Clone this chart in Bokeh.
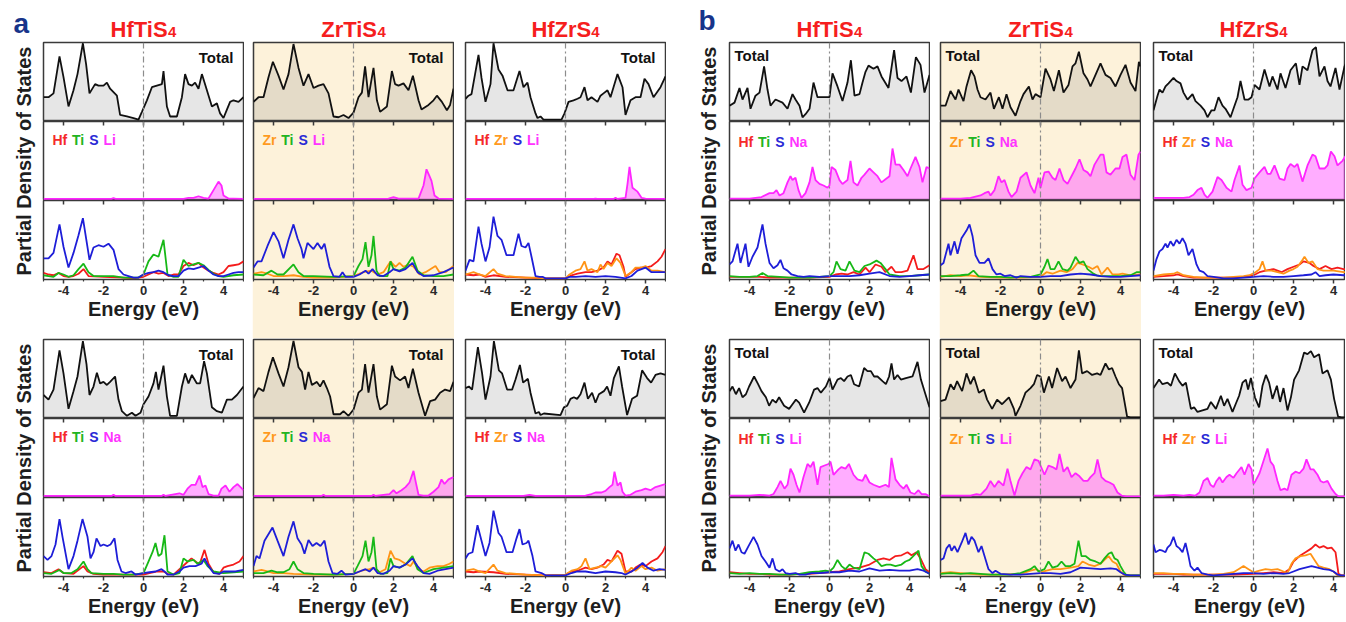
from math import pi
from bokeh.plotting import figure
from bokeh.layouts import row, column
from bokeh.models import Spacer, Label, Span, LinearAxis, FixedTicker, Range1d
from bokeh.embed import file_html
from bokeh.resources import INLINE

# ---------------- tick / label data ----------------
TICKS = [-4, -2, 0, 2, 4]
TICK_LABELS = ["-4", "-2", "0", "2", "4"]
MINOR_TICKS = [-5, -3, -1, 1, 3, 5]
COMPOUNDS = ["HfTiS", "ZrTiS", "HfZrS"]          # each followed by subscript 4
SUBSCRIPT = "4"
COL_ELEMENTS = [["Hf", "Ti", "S"], ["Zr", "Ti", "S"], ["Hf", "Zr", "S"]]
ALKALI_A = ["Li", "Na"]     # panel a: top row, bottom row
ALKALI_B = ["Na", "Li"]     # panel b: top row, bottom row

# ---------------- PANEL a, top row (Li) ----------------
A1_TOT = [(-5,30),(-4.75,30),(-4.5,35),(-4.2,83),(-4.0,56),(-3.75,18),(-3.5,39),(-3.3,60),(-3.03,100),(-2.87,73),(-2.7,35),(-2.42,47),(-2.25,45),(-2.0,45),(-1.83,49),(-1.67,41),(-1.33,32),(-1.17,7),(-0.83,5),(-0.5,3),(-0.25,1),(-0.08,11),(0.17,26),(0.42,43),(0.67,45),(0.92,47),(1.0,64),(1.17,18),(1.33,5),(1.67,5),(1.92,30),(2.08,60),(2.25,47),(2.42,45),(2.58,49),(2.75,41),(2.92,60),(3.17,39),(3.42,18),(3.67,22),(3.83,9),(4.0,3),(4.17,14),(4.33,24),(4.5,26),(4.75,24),(5.0,30)]
A1_ALK = [(-5,0.5),(-1.6,0.5),(-1.5,1.5),(-1.4,0.5),(2.0,0.5),(2.25,2),(2.5,2),(2.75,4),(3.0,2),(3.25,1),(3.5,12),(3.75,23),(3.9,18),(4.0,5),(4.25,1),(4.5,1),(5,0.5)]
A1_HF = [(-5,7),(-4.75,5),(-4.5,4),(-4.25,7),(-4.0,3),(-3.75,2),(-3.5,3),(-3.25,6),(-3.0,12),(-2.75,3),(-2.0,2),(-1.0,1),(-0.5,0),(0,2),(0.25,5),(0.5,8),(0.75,6),(1.0,7),(1.25,3),(1.5,5),(1.75,5),(2.0,16),(2.25,20),(2.5,17),(2.75,20),(3.0,14),(3.25,10),(3.5,7),(3.75,5),(4.0,8),(4.25,16),(4.5,17),(4.75,18),(5.0,22)]
A1_TI = [(-5,4),(-4.75,3),(-4.5,2),(-4.25,7),(-4.0,5),(-3.75,2),(-3.5,4),(-3.25,12),(-3.0,19),(-2.75,8),(-2.5,3),(-2.0,3),(-1.5,3),(-1.0,1),(-0.25,1),(0,5),(0.25,22),(0.5,31),(0.75,28),(1.0,50),(1.2,5),(1.5,2),(1.75,2),(2.0,24),(2.25,16),(2.5,18),(2.75,20),(3.0,17),(3.25,11),(3.5,6),(3.75,3),(4.0,2),(4.5,4),(5.0,5)]
A1_S = [(-5,26),(-4.75,26),(-4.5,33),(-4.2,70),(-4.0,41),(-3.75,14),(-3.5,33),(-3.25,56),(-3.03,78),(-2.7,24),(-2.5,40),(-2.25,43),(-2.0,41),(-1.75,45),(-1.5,37),(-1.25,12),(-1.0,5),(-0.75,3),(-0.5,1),(-0.25,1),(0,5),(0.25,7),(0.5,8),(0.75,10),(1.0,8),(1.25,4),(1.5,3),(1.75,3),(2.0,10),(2.25,13),(2.5,12),(2.75,14),(3.0,16),(3.25,10),(3.5,5),(3.75,3),(4.0,3),(4.25,5),(4.5,7),(4.75,8),(5.0,8)]

A2_TOT = [(-5,24),(-4.75,30),(-4.5,30),(-4.25,56),(-4.03,76),(-3.75,58),(-3.5,40),(-3.25,60),(-3.0,99),(-2.75,68),(-2.5,45),(-2.25,60),(-2.0,42),(-1.75,45),(-1.5,47),(-1.25,35),(-1.0,5),(-0.75,4),(-0.5,7),(-0.25,3),(0,10),(0.25,30),(0.42,36),(0.58,70),(0.75,30),(1.0,68),(1.17,26),(1.33,11),(1.67,18),(1.92,64),(2.08,47),(2.25,45),(2.5,48),(2.75,39),(2.97,58),(3.25,26),(3.4,14),(3.75,20),(4.0,26),(4.17,32),(4.42,24),(4.67,13),(4.83,20),(5.0,41)]
A2_ALK = [(-5,0.5),(1.75,1),(2.0,3),(2.25,1),(2.5,1),(3.25,1),(3.5,18),(3.65,39),(3.8,30),(3.9,24),(4.05,5),(4.25,1),(5,0.5)]
A2_ZR = [(-5,6),(-4.6,8),(-4.3,6),(-4.0,3),(-3.5,3),(-3.0,4),(-2.5,2),(-2,1),(-1,1),(0,3),(0.5,8),(0.9,10),(1.2,5),(1.5,8),(1.85,22),(2.1,15),(2.3,20),(2.5,15),(2.75,18),(3.0,15),(3.3,5),(3.6,8),(4.1,16),(4.3,8),(4.6,8),(5,16)]
A2_TI = [(-5,5),(-4.5,4),(-4.1,10),(-3.8,5),(-3.5,5),(-3.0,18),(-2.75,8),(-2.5,3),(-2,3),(-1,2),(0,3),(0.25,16),(0.45,25),(0.6,47),(0.75,15),(0.9,30),(1.0,55),(1.15,10),(1.3,3),(1.7,3),(1.85,22),(2.0,12),(2.3,10),(2.6,14),(2.95,28),(3.2,10),(3.5,4),(4,3),(4.5,3),(5,5)]
A2_S = [(-5,14),(-4.8,22),(-4.6,22),(-4.3,42),(-4.0,60),(-3.75,48),(-3.5,26),(-3.25,50),(-3.0,70),(-2.8,52),(-2.6,38),(-2.5,26),(-2.3,46),(-2.0,38),(-1.8,46),(-1.6,38),(-1.45,45),(-1.2,15),(-1.0,3),(-0.7,2),(-0.55,8),(-0.4,2),(0,2),(0.3,5),(0.6,10),(0.75,6),(0.95,12),(1.2,4),(1.5,3),(1.8,8),(2.0,12),(2.3,9),(2.6,12),(2.95,20),(3.2,8),(3.5,3),(4,4),(4.5,8),(5,14)]

A3_TOT = [(-5,28),(-4.85,32),(-4.7,34),(-4.35,85),(-4.2,55),(-4.0,24),(-3.75,47),(-3.6,100),(-3.35,66),(-3.15,58),(-2.9,39),(-2.6,39),(-2.3,64),(-2.1,43),(-1.9,49),(-1.75,30),(-1.5,9),(-1.4,3),(-1.25,5),(-1.1,1),(-0.2,1),(-0.05,9),(0.15,24),(0.4,26),(0.6,28),(0.75,30),(0.95,43),(1.1,26),(1.3,30),(1.6,24),(1.75,32),(1.9,35),(2.1,39),(2.25,30),(2.6,60),(2.85,43),(3.0,7),(3.25,26),(3.5,30),(3.75,30),(3.95,54),(4.15,47),(4.4,30),(4.75,43),(5.0,57)]
A3_ALK = [(-5,0.5),(1.4,0.5),(1.5,1),(1.6,0.5),(2.4,0.5),(2.5,2),(2.6,0.5),(3.0,2),(3.1,20),(3.2,42),(3.35,15),(3.6,10),(3.8,2),(4.0,1),(5,0.5)]
A3_HF = [(-5,5),(-4.6,4),(-4.3,5),(-4,2),(-3.6,4),(-3,2),(-2,1),(-1,0),(0,0),(0.3,4),(0.6,6),(1.0,8),(1.3,8),(1.6,10),(1.9,14),(2.1,22),(2.3,18),(2.55,32),(2.7,30),(2.9,15),(3.0,2),(3.2,6),(3.5,12),(3.75,14),(4.0,14),(4.3,16),(4.6,22),(4.8,28),(5.0,38)]
A3_ZR = [(-5,5),(-4.6,8),(-4.3,5),(-4.0,3),(-3.6,12),(-3.4,6),(-3.0,3),(-2.5,2),(-2,1),(-1.5,1),(-1,0),(0,0),(0.2,5),(0.5,10),(0.75,12),(0.95,22),(1.1,10),(1.3,12),(1.6,8),(1.75,18),(1.9,12),(2.1,20),(2.3,16),(2.55,26),(2.75,20),(3.0,3),(3.3,8),(3.5,14),(3.8,14),(4.0,16),(4.3,10),(4.6,10),(5,8)]
A3_S = [(-5,10),(-4.8,24),(-4.6,22),(-4.35,67),(-4.2,45),(-4.0,22),(-3.8,40),(-3.6,80),(-3.4,55),(-3.2,50),(-2.95,30),(-2.6,30),(-2.35,58),(-2.2,42),(-2.0,40),(-1.85,46),(-1.7,28),(-1.5,3),(-1.3,2),(-1.15,2),(-1.0,0),(0,0),(0.2,2),(0.5,2),(1.0,3),(1.5,2),(2.0,3),(2.5,2),(3.0,0),(3.3,3),(3.6,10),(4.0,14),(4.3,8),(4.6,8),(5,8)]

# ---------------- PANEL a, bottom row (Na) ----------------
A4_TOT = [(-5,29),(-4.75,23),(-4.5,36),(-4.2,87),(-4.0,57),(-3.75,11),(-3.5,34),(-3.3,53),(-3.03,99),(-2.85,69),(-2.7,29),(-2.5,40),(-2.33,58),(-2.17,44),(-2.0,46),(-1.83,42),(-1.67,46),(-1.42,53),(-1.25,23),(-1.08,8),(-0.83,2),(-0.58,6),(-0.4,2),(-0.15,6),(0,17),(0.25,27),(0.5,44),(0.62,59),(0.75,36),(1.0,67),(1.17,27),(1.33,2),(1.67,2),(1.92,40),(2.08,57),(2.25,44),(2.42,55),(2.67,44),(2.83,44),(3.03,73),(3.17,57),(3.42,13),(3.67,8),(3.92,6),(4.17,23),(4.42,23),(4.67,29),(5.0,40)]
A4_ALK = [(-5,0.5),(-1.6,0.5),(-1.5,2),(-1.4,0.5),(0.9,0.5),(1.0,2),(1.1,0.5),(1.8,4),(2.0,2),(2.2,10),(2.4,15),(2.6,15),(2.8,27),(2.95,12),(3.1,14),(3.25,3),(3.5,1),(3.75,1),(3.9,10),(4.1,14),(4.3,6),(4.5,12),(4.7,16),(4.85,12),(5,8)]
A4_HF = [(-5,4),(-4.6,3),(-4.25,8),(-4.0,3),(-3.5,2),(-3.0,12),(-2.8,5),(-2.5,2),(-2,1),(-1,1),(0,1),(0.3,3),(0.7,5),(1.0,5),(1.2,2),(1.5,1),(1.8,8),(2.1,15),(2.4,22),(2.6,18),(2.8,14),(3.05,33),(3.25,15),(3.5,4),(3.8,2),(4.0,10),(4.2,12),(4.5,14),(4.8,18),(5.0,25)]
A4_TI = [(-5,3),(-4.6,2),(-4.2,7),(-4,3),(-3.6,3),(-3.3,8),(-3.0,18),(-2.8,8),(-2.6,3),(-2,2),(-1.5,2),(-1,1),(-0.5,1),(0,3),(0.2,15),(0.45,30),(0.6,42),(0.75,25),(0.9,28),(1.05,52),(1.2,5),(1.5,1),(1.8,3),(2.0,22),(2.2,18),(2.5,20),(2.7,15),(3.0,20),(3.2,12),(3.5,5),(4.0,3),(4.5,4),(5,5)]
A4_S = [(-5,25),(-4.8,20),(-4.6,25),(-4.4,40),(-4.2,73),(-4.05,50),(-3.75,8),(-3.5,25),(-3.3,45),(-3.05,73),(-2.8,50),(-2.65,22),(-2.5,30),(-2.35,48),(-2.15,38),(-2.0,40),(-1.8,38),(-1.65,40),(-1.45,48),(-1.3,20),(-1.1,5),(-0.9,3),(-0.6,5),(-0.4,1),(0,3),(0.3,4),(0.6,5),(0.9,8),(1.05,5),(1.2,1),(1.5,1),(1.8,5),(2.0,10),(2.3,12),(2.6,12),(2.9,15),(3.05,22),(3.25,12),(3.5,3),(3.8,2),(4.0,5),(4.3,5),(4.6,5),(5,7)]

A5_TOT = [(-5,25),(-4.75,38),(-4.5,34),(-4.25,59),(-4.03,78),(-3.75,57),(-3.5,40),(-3.25,65),(-3.0,99),(-2.75,65),(-2.58,59),(-2.42,36),(-2.25,59),(-2.08,42),(-1.83,46),(-1.67,40),(-1.5,48),(-1.33,38),(-1.17,27),(-1.0,4),(-0.67,4),(-0.5,8),(-0.25,2),(0,10),(0.25,32),(0.42,36),(0.58,69),(0.75,32),(1.0,69),(1.17,27),(1.33,10),(1.67,17),(1.92,67),(2.08,53),(2.33,48),(2.58,53),(2.75,38),(2.97,63),(3.25,32),(3.58,2),(3.83,21),(4.08,23),(4.33,32),(4.58,36),(4.83,34),(5.0,46)]
A5_ALK = [(-5,0.5),(-1.6,0.5),(-1.5,2),(-1.4,0.5),(0.9,0.5),(1.0,2),(1.1,0.5),(1.8,3),(2.0,8),(2.15,4),(2.4,8),(2.6,12),(2.8,18),(3.0,33),(3.1,20),(3.25,2),(3.5,1),(3.75,1),(4.0,6),(4.25,12),(4.4,22),(4.55,16),(4.75,22),(5,25)]
A5_ZR = [(-5,5),(-4.6,7),(-4.3,5),(-4,3),(-3.5,3),(-3,2),(-2,1),(-1,1),(0,2),(0.4,6),(0.8,8),(1.0,10),(1.3,4),(1.6,8),(1.85,32),(2.05,22),(2.3,20),(2.6,15),(2.85,12),(3.0,18),(3.25,8),(3.5,5),(3.8,10),(4.2,12),(4.5,12),(4.8,15),(5,18)]
A5_TI = [(-5,3),(-4.5,3),(-4.1,6),(-3.8,4),(-3.5,4),(-3.2,8),(-3.0,18),(-2.8,8),(-2.5,3),(-2,2),(-1,1),(0,2),(0.2,12),(0.45,25),(0.6,45),(0.75,18),(0.9,30),(1.0,50),(1.15,8),(1.35,2),(1.7,3),(1.85,22),(2.0,12),(2.3,10),(2.6,14),(2.95,25),(3.2,8),(3.5,3),(4.0,8),(4.5,10),(5,12)]
A5_S = [(-5,12),(-4.85,25),(-4.7,22),(-4.45,45),(-4.05,62),(-3.8,45),(-3.5,25),(-3.25,50),(-3.0,70),(-2.8,48),(-2.6,40),(-2.45,28),(-2.25,46),(-2.05,38),(-1.85,42),(-1.65,38),(-1.45,45),(-1.25,18),(-1.05,3),(-0.8,2),(-0.6,6),(-0.4,1),(0,2),(0.3,5),(0.6,8),(0.8,5),(1.0,10),(1.2,3),(1.5,2),(1.8,6),(2.0,12),(2.3,10),(2.6,14),(2.95,22),(3.2,12),(3.5,3),(3.8,2),(4.2,6),(4.6,8),(5.0,10)]

A6_TOT = [(-5,38),(-4.83,40),(-4.67,36),(-4.38,91),(-4.17,57),(-4.0,23),(-3.75,53),(-3.58,99),(-3.33,61),(-3.17,57),(-2.92,36),(-2.67,36),(-2.5,49),(-2.28,68),(-2.12,45),(-1.88,50),(-1.75,32),(-1.5,5),(-1.33,7),(-1.25,3),(-1.08,5),(-0.25,3),(-0.08,13),(0.08,15),(0.25,24),(0.42,26),(0.58,24),(0.75,30),(0.95,45),(1.12,24),(1.33,32),(1.5,19),(1.67,30),(1.92,34),(2.08,40),(2.25,28),(2.42,51),(2.67,66),(2.83,40),(3.08,3),(3.33,24),(3.58,28),(3.83,61),(4.08,51),(4.28,45),(4.5,55),(4.75,57),(5.0,55)]
A6_ALK = [(-5,0.5),(-2.1,0.5),(-1.8,2),(-1.5,0.5),(1.0,1),(1.3,3),(1.5,5),(1.8,5),(2.0,7),(2.2,12),(2.35,15),(2.45,32),(2.6,14),(2.75,18),(2.85,6),(3.0,1),(3.25,2),(3.5,6),(3.8,8),(4.0,10),(4.25,8),(4.5,12),(4.75,14),(5,16)]
A6_HF = [(-5,5),(-4.6,4),(-4.3,5),(-3.6,4),(-3,2),(-2,1),(-1,0),(0,1),(0.3,5),(0.6,6),(1.0,10),(1.3,8),(1.6,10),(1.9,14),(2.1,20),(2.3,18),(2.6,32),(2.8,28),(3.0,5),(3.3,5),(3.5,10),(3.75,14),(4.0,12),(4.3,18),(4.6,22),(4.85,30),(5,38)]
A6_ZR = [(-5,6),(-4.6,8),(-4.3,5),(-4.0,3),(-3.6,14),(-3.4,6),(-3.0,3),(-2,1),(-1,0),(0,1),(0.3,6),(0.6,8),(0.8,12),(1.0,22),(1.2,8),(1.5,10),(1.8,12),(2.0,10),(2.3,18),(2.6,26),(2.75,20),(3.0,2),(3.3,10),(3.5,6),(3.8,12),(4.0,8),(4.3,10),(4.6,6),(5,8)]
A6_S = [(-5,22),(-4.85,28),(-4.65,30),(-4.4,65),(-4.2,45),(-4.0,25),(-3.8,42),(-3.6,84),(-3.35,55),(-3.2,50),(-2.95,30),(-2.65,30),(-2.45,48),(-2.3,60),(-2.15,40),(-1.95,42),(-1.85,45),(-1.65,25),(-1.5,5),(-1.2,3),(-1.0,0),(0,0),(0.3,3),(0.6,5),(1.0,5),(1.5,3),(2.0,5),(2.5,4),(2.8,3),(3.0,1),(3.3,5),(3.6,10),(3.85,16),(4.1,10),(4.4,6),(4.7,8),(5,7)]

# ---------------- PANEL b, top row (Na) ----------------
B1_TOT = [(-5,19),(-4.75,23),(-4.5,42),(-4.35,27),(-4.1,42),(-3.95,15),(-3.7,32),(-3.5,36),(-3.27,70),(-3.1,40),(-2.95,19),(-2.7,27),(-2.35,23),(-2.1,15),(-1.85,34),(-1.7,27),(-1.5,19),(-1.35,4),(-1.2,8),(-1.0,15),(-0.8,49),(-0.6,30),(-0.3,30),(0,30),(0.15,61),(0.4,44),(0.65,25),(0.9,49),(1.07,78),(1.25,32),(1.5,34),(1.65,49),(1.8,63),(1.95,71),(2.2,67),(2.4,70),(2.6,57),(2.95,42),(3.23,91),(3.4,55),(3.6,51),(3.85,57),(4.07,36),(4.32,82),(4.55,72),(4.75,36),(5.0,59)]
B1_ALK = [(-5,1),(-4.0,1),(-3.4,3),(-3.0,8),(-2.8,8),(-2.65,12),(-2.5,5),(-2.3,8),(-2.1,22),(-1.95,30),(-1.85,25),(-1.7,28),(-1.55,12),(-1.4,2),(-1.2,8),(-1.0,22),(-0.85,42),(-0.7,25),(-0.5,20),(-0.3,18),(-0.1,15),(0.0,18),(0.1,42),(0.3,38),(0.5,25),(0.65,20),(0.9,25),(1.05,50),(1.2,22),(1.4,18),(1.6,28),(1.75,32),(2.0,40),(2.2,35),(2.4,30),(2.6,22),(2.8,26),(3.0,30),(3.15,66),(3.3,45),(3.5,45),(3.7,38),(3.9,30),(4.05,40),(4.3,55),(4.5,42),(4.65,22),(4.85,42),(5,40)]
B1_HF = [(-5,2),(-4.5,2),(-4,2),(-3.5,2),(-3,1),(-2,1),(-1,1),(0,2),(0.3,5),(0.6,6),(0.9,5),(1.2,8),(1.5,5),(1.8,14),(2.0,8),(2.3,18),(2.6,15),(2.8,8),(3.1,15),(3.3,8),(3.6,8),(3.9,10),(4.2,30),(4.4,12),(4.7,12),(5.0,17)]
B1_TI = [(-5,3),(-4.5,2),(-4.0,2),(-3.6,3),(-3.35,7),(-3.1,3),(-2.5,2),(-2,1),(-1,1),(-0.5,2),(0,3),(0.2,8),(0.35,22),(0.55,12),(0.8,10),(1.0,22),(1.25,10),(1.5,8),(1.75,16),(2.0,18),(2.35,23),(2.55,20),(2.8,12),(3.0,5),(3.5,3),(4.0,3),(4.5,4),(5,5)]
B1_S = [(-5,18),(-4.85,22),(-4.6,45),(-4.45,20),(-4.2,45),(-4.05,15),(-3.85,28),(-3.6,40),(-3.35,70),(-3.2,45),(-3.0,20),(-2.8,13),(-2.6,17),(-2.45,24),(-2.3,13),(-2.1,10),(-1.9,5),(-1.6,3),(-1.3,2),(-1.0,3),(-0.5,2),(0,3),(0.5,3),(1,3),(1.5,4),(2.0,6),(2.5,8),(3.0,3),(3.5,2),(4.0,3),(4.5,4),(5,5)]

B2_TOT = [(-5,19),(-4.75,19),(-4.5,38),(-4.25,27),(-4.1,40),(-3.85,25),(-3.7,44),(-3.47,65),(-3.3,57),(-3.15,40),(-3.0,30),(-2.75,27),(-2.5,36),(-2.33,15),(-2.08,30),(-1.9,15),(-1.7,34),(-1.5,17),(-1.25,6),(-1.0,25),(-0.85,34),(-0.58,44),(-0.4,27),(-0.25,34),(0.0,30),(0.25,67),(0.5,53),(0.67,38),(0.92,65),(1.15,36),(1.4,46),(1.6,70),(1.75,74),(1.92,89),(2.15,61),(2.35,53),(2.5,44),(2.75,59),(3.0,74),(3.25,59),(3.5,55),(3.75,44),(4.0,59),(4.25,72),(4.5,49),(4.75,38),(4.92,76),(5,70)]
B2_ALK = [(-5,1),(-4,1),(-3.5,2),(-3.0,5),(-2.8,8),(-2.6,10),(-2.5,5),(-2.3,12),(-2.1,30),(-1.95,22),(-1.8,25),(-1.6,10),(-1.45,3),(-1.2,10),(-1.0,28),(-0.7,35),(-0.5,18),(-0.3,8),(-0.1,28),(0.0,15),(0.2,35),(0.4,36),(0.6,28),(0.75,25),(0.95,40),(1.15,25),(1.35,20),(1.55,30),(1.75,40),(1.95,52),(2.15,38),(2.35,35),(2.5,30),(2.7,45),(3.0,58),(3.15,58),(3.3,35),(3.5,32),(3.75,40),(3.95,40),(4.1,55),(4.3,58),(4.5,32),(4.7,25),(4.9,58),(5,62)]
B2_ZR = [(-5,2),(-4.5,4),(-4,3),(-3.6,4),(-3,2),(-2,1),(-1,1),(0,2),(0.3,8),(0.6,6),(1.0,10),(1.3,8),(1.6,12),(1.85,20),(2.1,18),(2.4,15),(2.6,12),(2.85,16),(3.05,5),(3.35,14),(3.6,5),(3.9,5),(4.1,6),(4.5,4),(5,5)]
B2_TI = [(-5,3),(-4.5,3),(-4,4),(-3.6,5),(-3.35,10),(-3.1,3),(-2.5,2),(-2,2),(-1.5,1),(-1,2),(-0.5,2),(0,5),(0.2,15),(0.35,25),(0.5,12),(0.7,12),(0.9,22),(1.1,12),(1.35,10),(1.5,14),(1.75,28),(1.95,20),(2.15,22),(2.35,12),(2.6,7),(2.8,4),(3.0,3),(3.5,3),(4,3),(4.5,4),(4.8,8),(5,8)]
B2_S = [(-5,17),(-4.85,20),(-4.6,45),(-4.5,30),(-4.3,48),(-4.15,32),(-3.95,52),(-3.7,62),(-3.55,70),(-3.4,55),(-3.25,30),(-3.05,20),(-2.8,20),(-2.6,26),(-2.4,12),(-2.2,5),(-2.0,6),(-1.8,3),(-1.5,4),(-1.2,1),(-1.0,3),(-0.5,2),(0,2),(0.5,3),(1.0,3),(1.5,5),(2.0,6),(2.5,5),(3.0,3),(3.5,2),(4.0,2),(4.5,3),(5,4)]

B3_TOT = [(-5,13),(-4.8,32),(-4.7,40),(-4.55,36),(-4.4,44),(-4.25,48),(-4.0,55),(-3.85,51),(-3.65,48),(-3.5,36),(-3.3,27),(-3.05,34),(-2.9,25),(-2.65,19),(-2.45,13),(-2.3,4),(-2.1,13),(-1.95,13),(-1.75,30),(-1.55,19),(-1.4,15),(-1.15,4),(-0.95,19),(-0.8,30),(-0.65,51),(-0.45,27),(-0.25,27),(-0.1,30),(0.05,46),(0.3,40),(0.55,66),(0.8,44),(0.95,57),(1.2,40),(1.35,61),(1.6,42),(1.85,65),(2.12,74),(2.3,46),(2.45,70),(2.7,65),(2.95,91),(3.12,95),(3.3,57),(3.55,70),(3.7,51),(3.85,44),(4.1,68),(4.3,40),(4.55,70),(4.7,78),(5,60)]
B3_ALK = [(-5,2),(-3.5,2),(-3.2,3),(-3.0,6),(-2.8,12),(-2.6,15),(-2.45,6),(-2.3,2),(-2.05,10),(-1.8,29),(-1.6,25),(-1.35,15),(-1.1,10),(-0.95,25),(-0.7,44),(-0.55,19),(-0.35,12),(-0.1,15),(0.05,27),(0.3,35),(0.55,42),(0.7,33),(0.85,33),(1.05,44),(1.3,27),(1.55,25),(1.7,40),(1.85,46),(2.05,42),(2.2,46),(2.45,23),(2.7,44),(2.95,58),(3.1,56),(3.3,40),(3.55,40),(3.7,44),(3.87,62),(4.05,56),(4.2,44),(4.45,50),(4.7,60),(5,52)]
B3_HF = [(-5,2),(-4.5,3),(-4,4),(-3.8,5),(-3.5,3),(-3,1),(-2,1),(-1,1),(-0.5,2),(0,4),(0.3,8),(0.6,10),(1.0,12),(1.4,8),(1.7,12),(2.0,15),(2.3,18),(2.5,22),(2.8,20),(3.0,16),(3.3,12),(3.6,16),(3.9,12),(4.2,14),(4.5,12),(5,12)]
B3_ZR = [(-5,3),(-4.5,5),(-4.0,6),(-3.8,8),(-3.5,4),(-3.0,2),(-2.5,1),(-2.0,1),(-1.5,1),(-1.0,2),(-0.5,3),(-0.2,4),(0.1,8),(0.3,12),(0.45,22),(0.6,10),(0.9,10),(1.2,8),(1.5,6),(1.8,10),(2.0,12),(2.2,15),(2.4,22),(2.55,28),(2.75,20),(2.95,22),(3.2,12),(3.5,10),(4.0,10),(4.5,8),(5,8)]
B3_S = [(-5,10),(-4.85,25),(-4.7,35),(-4.55,38),(-4.4,45),(-4.3,40),(-4.15,48),(-4.0,42),(-3.85,50),(-3.7,45),(-3.55,52),(-3.4,45),(-3.25,30),(-3.05,38),(-2.85,18),(-2.7,10),(-2.5,8),(-2.3,3),(-2.0,2),(-1.5,0),(-1.0,0),(-0.5,1),(0,2),(0.5,3),(1.0,2),(1.5,2),(2.0,3),(2.5,4),(2.9,5),(3.1,8),(3.3,3),(3.6,4),(4.0,5),(4.5,4),(5,4)]

# ---------------- PANEL b, bottom row (Li) ----------------
B4_TOT = [(-5,34),(-4.85,40),(-4.68,30),(-4.52,38),(-4.35,26),(-4.18,30),(-4.02,40),(-3.77,53),(-3.57,43),(-3.4,34),(-3.18,26),(-3.02,15),(-2.85,23),(-2.68,19),(-2.52,26),(-2.27,15),(-2.02,11),(-1.85,17),(-1.68,23),(-1.52,19),(-1.27,6),(-1.02,19),(-0.77,36),(-0.6,38),(-0.43,32),(-0.18,40),(0.0,51),(0.15,36),(0.4,49),(0.57,51),(0.73,47),(0.9,53),(1.07,55),(1.23,43),(1.48,40),(1.73,64),(1.9,60),(2.07,60),(2.23,53),(2.4,53),(2.65,47),(2.82,43),(2.98,53),(3.1,70),(3.23,49),(3.4,55),(3.57,49),(3.82,51),(4.15,53),(4.4,72),(4.57,49),(4.82,28),(5.0,13)]
B4_ALK = [(-5,1),(-4,1),(-3.5,2),(-3.0,1),(-2.8,3),(-2.6,12),(-2.45,20),(-2.25,10),(-2.1,15),(-1.95,36),(-1.8,28),(-1.65,15),(-1.5,5),(-1.3,25),(-1.1,42),(-0.95,38),(-0.8,45),(-0.6,15),(-0.45,38),(-0.25,40),(-0.05,42),(0.05,45),(0.2,28),(0.45,35),(0.6,38),(0.8,36),(0.97,42),(1.2,28),(1.4,22),(1.65,20),(1.8,28),(2.0,18),(2.2,15),(2.5,12),(2.8,15),(2.97,12),(3.1,50),(3.3,22),(3.5,15),(3.7,10),(3.85,15),(4.05,5),(4.25,3),(4.45,8),(4.6,3),(4.8,3),(5,0)]
B4_HF = [(-5,4),(-4.5,3),(-4,2),(-3.5,2),(-3,1),(-2,1),(-1.5,2),(-1,2),(-0.5,3),(0,4),(0.5,5),(1.0,8),(1.5,10),(2.0,14),(2.4,20),(2.7,22),(3.0,20),(3.3,25),(3.6,26),(3.9,30),(4.1,26),(4.35,30),(4.55,22),(4.8,8),(5,4)]
B4_TI = [(-5,3),(-4.5,2),(-4.0,3),(-3.5,2),(-3.0,2),(-2.5,1),(-2,1),(-1.5,2),(-1.0,4),(-0.5,5),(-0.2,6),(0,5),(0.2,10),(0.4,20),(0.6,12),(0.8,8),(1.0,14),(1.2,10),(1.5,8),(1.75,30),(1.95,28),(2.2,22),(2.4,18),(2.6,12),(2.85,14),(3.05,14),(3.3,12),(3.6,14),(3.8,18),(4.0,20),(4.3,28),(4.45,32),(4.6,12),(4.8,5),(5,2)]
B4_S = [(-5,35),(-4.85,45),(-4.7,32),(-4.55,40),(-4.4,30),(-4.25,28),(-4.05,38),(-3.8,50),(-3.6,40),(-3.4,25),(-3.2,18),(-3.0,10),(-2.85,22),(-2.7,8),(-2.5,5),(-2.35,8),(-2.2,3),(-2.0,2),(-1.7,3),(-1.5,1),(-1.2,1),(-0.9,3),(-0.5,3),(0,4),(0.5,4),(1.0,6),(1.5,5),(2.0,9),(2.5,6),(3.0,7),(3.5,6),(4.0,6),(4.4,8),(4.7,6),(5,2)]

B5_TOT = [(-5,21),(-4.75,23),(-4.5,43),(-4.33,36),(-4.17,47),(-3.92,34),(-3.7,57),(-3.5,43),(-3.33,53),(-3.08,32),(-2.83,36),(-2.67,23),(-2.42,11),(-2.17,23),(-1.92,17),(-1.58,26),(-1.33,11),(-1.25,2),(-1.0,15),(-0.75,32),(-0.5,38),(-0.33,43),(-0.17,55),(0.0,53),(0.17,32),(0.42,53),(0.58,38),(0.83,64),(1.08,47),(1.25,53),(1.5,38),(1.75,49),(1.92,87),(2.08,57),(2.33,60),(2.58,55),(2.83,57),(3.0,55),(3.25,70),(3.42,62),(3.58,64),(3.75,53),(3.92,43),(4.08,38),(4.25,13),(4.33,1),(4.5,0),(5,0)]
B5_ALK = [(-5,1),(-4,1),(-3.5,1),(-3.2,3),(-3.0,2),(-2.7,10),(-2.5,20),(-2.3,12),(-2.1,20),(-1.85,14),(-1.65,36),(-1.5,20),(-1.3,1),(-1.1,20),(-0.9,30),(-0.7,38),(-0.5,35),(-0.3,48),(-0.1,46),(0.0,40),(0.2,28),(0.4,40),(0.6,38),(0.8,35),(0.95,55),(1.15,32),(1.35,38),(1.55,25),(1.75,30),(1.95,26),(2.15,20),(2.35,20),(2.5,25),(2.7,30),(2.85,48),(3.05,25),(3.25,20),(3.45,18),(3.65,15),(3.85,5),(4.05,1),(4.3,0),(5,0)]
B5_ZR = [(-5,3),(-4.5,4),(-4,3),(-3.5,2),(-3,1),(-2,1),(-1,2),(-0.5,6),(-0.2,8),(0,4),(0.3,6),(0.6,8),(1.0,8),(1.5,10),(1.9,12),(2.1,18),(2.4,14),(2.7,12),(3.0,15),(3.2,20),(3.4,25),(3.6,18),(3.8,15),(4.0,5),(4.2,0),(5,0)]
B5_TI = [(-5,2),(-4.5,3),(-4,2),(-3.5,3),(-3,2),(-2.5,1),(-2,1),(-1.5,1),(-1,3),(-0.5,8),(-0.3,12),(-0.1,5),(0.2,8),(0.4,18),(0.6,10),(0.85,12),(1.05,18),(1.25,12),(1.5,12),(1.7,15),(1.9,45),(2.05,25),(2.25,25),(2.5,20),(2.75,18),(3.0,15),(3.2,22),(3.4,28),(3.55,30),(3.7,22),(3.85,20),(4.0,12),(4.15,5),(4.3,0),(5,0)]
B5_S = [(-5,20),(-4.85,22),(-4.7,35),(-4.55,40),(-4.45,32),(-4.3,38),(-4.15,30),(-3.95,42),(-3.75,55),(-3.6,40),(-3.45,50),(-3.3,45),(-3.1,30),(-2.95,38),(-2.8,25),(-2.6,8),(-2.4,3),(-2.25,6),(-2.0,2),(-1.5,1),(-1.0,1),(-0.5,2),(0,3),(0.5,3),(1.0,2),(1.5,4),(2.0,10),(2.5,9),(3.0,8),(3.5,9),(3.8,8),(4.0,4),(4.2,1),(4.5,0),(5,0)]

B6_TOT = [(-5,38),(-4.72,49),(-4.55,43),(-4.3,45),(-4.13,41),(-3.93,57),(-3.72,47),(-3.55,41),(-3.38,45),(-3.13,11),(-2.97,13),(-2.8,7),(-2.55,9),(-2.3,11),(-2.13,20),(-1.88,11),(-1.63,28),(-1.47,15),(-1.3,24),(-1.05,7),(-0.88,18),(-0.72,28),(-0.55,45),(-0.38,49),(-0.27,36),(-0.13,51),(0.07,26),(0.28,13),(0.45,41),(0.62,55),(0.78,45),(0.95,24),(1.17,41),(1.33,20),(1.5,38),(1.7,9),(1.87,26),(2.03,49),(2.28,61),(2.53,84),(2.7,82),(2.87,86),(3.03,78),(3.28,82),(3.45,57),(3.7,61),(3.87,49),(4.03,24),(4.23,1),(4.4,0),(5,0)]
B6_ALK = [(-5,1),(-4.5,1),(-4.0,2),(-3.5,1),(-3.2,2),(-2.9,1),(-2.7,5),(-2.5,20),(-2.3,24),(-2.15,15),(-2.0,12),(-1.85,20),(-1.7,25),(-1.55,18),(-1.35,25),(-1.2,28),(-1.0,24),(-0.85,30),(-0.6,38),(-0.45,28),(-0.25,42),(-0.1,35),(0.0,16),(0.1,20),(0.3,30),(0.45,42),(0.7,62),(0.85,45),(1.0,40),(1.2,20),(1.35,8),(1.55,10),(1.7,8),(1.9,28),(2.1,32),(2.3,30),(2.5,36),(2.65,48),(2.85,35),(3.0,35),(3.2,28),(3.35,20),(3.5,18),(3.7,20),(3.9,10),(4.1,3),(4.25,0),(5,0)]
B6_HF = [(-5,2),(-4.5,2),(-4,2),(-3.5,1),(-3,1),(-2,1),(-1,1),(0,2),(0.5,3),(1.0,4),(1.5,3),(1.8,8),(2.0,18),(2.3,25),(2.6,30),(2.9,35),(3.1,40),(3.3,36),(3.5,38),(3.7,35),(3.9,36),(4.1,30),(4.25,2),(4.4,0),(5,0)]
B6_ZR = [(-5,3),(-4.5,3),(-4,2),(-3.5,2),(-3,1),(-2,1),(-1.5,2),(-1.0,4),(-0.75,8),(-0.5,12),(-0.25,8),(0,4),(0.3,6),(0.6,8),(0.9,7),(1.2,8),(1.5,5),(1.7,3),(1.9,15),(2.1,22),(2.35,25),(2.6,26),(2.85,28),(3.05,20),(3.25,12),(3.5,10),(3.8,8),(4.0,5),(4.2,0),(5,0)]
B6_S = [(-5,40),(-4.9,30),(-4.7,33),(-4.55,32),(-4.4,30),(-4.3,36),(-4.15,40),(-4.0,50),(-3.85,38),(-3.7,35),(-3.55,30),(-3.4,42),(-3.25,25),(-3.15,12),(-2.95,6),(-2.8,10),(-2.6,3),(-2.3,1),(-2.0,0),(-1.5,1),(-1.0,2),(-0.5,3),(0,3),(0.5,2),(1.0,3),(1.5,2),(1.8,3),(2.0,5),(2.3,8),(2.6,10),(2.9,12),(3.2,10),(3.5,8),(3.8,7),(4.0,5),(4.2,1),(4.4,0),(5,0)]

# ---------------- styles ----------------
FONT = "Liberation Sans"
COLORS = {"Hf": "#f41c1c", "Ti": "#17b817", "S": "#1e1ed8", "Zr": "#ff9416", "Li": "#ff26ff", "Na": "#ff26ff"}
LABEL_COLORS = {"Hf": "#f52a2a", "Ti": "#22b422", "S": "#2a2ad6", "Zr": "#ff9a1e", "Li": "#ff33ff", "Na": "#ff33ff"}
# Arial/Liberation bold advance widths (em) used to lay out multi-coloured labels
GLYPH_EM = {"H": .722, "f": .333, "T": .611, "i": .278, "S": .667, "Z": .611, "r": .389,
            "L": .611, "N": .722, "a": .556, "4": .556}
BEIGE = "#fdf2da"
FH = 79          # frame height of each sub-panel
HEADER_H = 41    # title strip above the top row
MID_GAP = 59     # axis area under the top row
BOT_GAP = 45     # axis area under the bottom row
TITLE_RED = "#f61e1e"
NAVY = "#17348a"


def em(text):
    return sum(GLYPH_EM[c] for c in text)


def xy(pts):
    return [p[0] for p in pts], [p[1] for p in pts]


def base(w, h, xend, bg, border, mb_top=0, mb_bottom=0, mb_right=1):
    p = figure(width=w, height=h, x_range=Range1d(-5, xend), y_range=Range1d(-1.5, 101),
               toolbar_location=None, output_backend="svg",
               x_axis_location=None, y_axis_location=None,
               min_border_left=1, min_border_right=mb_right,
               min_border_top=mb_top, min_border_bottom=mb_bottom,
               background_fill_color=bg, border_fill_color=border,
               outline_line_color="#3a3a3a", outline_line_width=1.5)
    p.xgrid.visible = False
    p.ygrid.visible = False
    p.add_layout(Span(location=0, dimension="height", line_color="#8c8c8c",
                      line_width=1.2, line_dash="6 3 2 3"))
    return p


def top_ticks(p):
    # inward tick marks along the top edge; an extra range measured in frame pixels
    p.extra_y_ranges = {"px": Range1d(0, FH)}
    p.segment(x0=TICKS, x1=TICKS, y0=[FH] * len(TICKS), y1=[FH - 4] * len(TICKS),
              y_range_name="px", line_color="#3a3a3a", line_width=1.5)


def bottom_axis(p):
    ax = LinearAxis(ticker=FixedTicker(ticks=TICKS, minor_ticks=MINOR_TICKS),
                    major_label_overrides={t: s for t, s in zip(TICKS, TICK_LABELS)},
                    axis_label="Energy (eV)",
                    major_tick_in=0, major_tick_out=4, minor_tick_in=0, minor_tick_out=2,
                    axis_line_color=None, major_tick_line_color="#3a3a3a", major_tick_line_width=1.5,
                    minor_tick_line_color="#3a3a3a", minor_tick_line_width=1.2,
                    major_label_text_font=FONT, major_label_text_font_style="bold",
                    major_label_text_font_size="13px", major_label_text_color="#2a2a2a",
                    major_label_standoff=2,
                    axis_label_text_font=FONT, axis_label_text_font_style="bold",
                    axis_label_text_font_size="20px", axis_label_text_color="#1e1e1e",
                    axis_label_standoff=0)
    p.add_layout(ax, "below")


def make_column(tot, alk, elems, names, alkali, panel, beige, top_block, w, xend):
    bg = BEIGE if beige else "white"
    mbr = 1 if xend >= 5 else 0
    fw = w - 1 - mbr
    # Total
    p1 = base(w, FH + 1, xend, bg, bg, mb_top=1, mb_right=mbr)
    x, y = xy(tot)
    p1.varea(x=x, y1=0, y2=y, fill_color="#808080", fill_alpha=0.2)
    p1.line(x, y, line_color="#111111", line_width=1.8)
    if panel == "a":
        p1.add_layout(Label(x=fw - 10, y=FH - 15, x_units="screen", y_units="screen", text="Total",
                            text_align="right", text_baseline="middle", text_font=FONT,
                            text_font_style="bold", text_font_size="15px", text_color="#111111"))
    else:
        p1.add_layout(Label(x=5, y=FH - 13, x_units="screen", y_units="screen", text="Total",
                            text_align="left", text_baseline="middle", text_font=FONT,
                            text_font_style="bold", text_font_size="15px", text_color="#111111"))
    # alkali
    p2 = base(w, FH, xend, bg, bg, mb_right=mbr)
    top_ticks(p2)
    x, y = xy(alk)
    p2.varea(x=x, y1=0, y2=y, fill_color="#ff5cff", fill_alpha=0.5)
    p2.line(x, y, line_color=COLORS[alkali], line_width=1.8)
    lx = 9
    ly = FH - (18 if panel == "a" else 20)
    for nm in names + [alkali]:
        p2.add_layout(Label(x=lx, y=ly, x_units="screen", y_units="screen", text=nm,
                            text_align="left", text_baseline="middle", text_font=FONT,
                            text_font_style="bold", text_font_size="14px",
                            text_color=LABEL_COLORS[nm]))
        lx += em(nm) * 14 + 4.8
    # elements
    bb = MID_GAP if top_block else BOT_GAP
    p3 = base(w, FH + bb, xend, bg, bg if top_block else "white", mb_bottom=bb, mb_right=mbr)
    top_ticks(p3)
    for nm, d in zip(names, elems):
        x, y = xy(d)
        p3.line(x, y, line_color=COLORS[nm], line_width=1.8)
    bottom_axis(p3)
    return column(p1, p2, p3)


def blank_fig(w, h):
    p = figure(width=w, height=h, toolbar_location=None, output_backend="svg",
               x_axis_location=None, y_axis_location=None, min_border=0,
               outline_line_color=None, x_range=Range1d(0, 1), y_range=Range1d(0, 1))
    p.xgrid.visible = False
    p.ygrid.visible = False
    return p


def ylab_fig(w, h, xc, yc):
    p = blank_fig(w, h)
    p.add_layout(Label(x=xc, y=yc, x_units="screen", y_units="screen",
                       text="Partial Density of States", angle=pi / 2,
                       text_align="center", text_baseline="middle", text_font=FONT,
                       text_font_style="bold", text_font_size="20px", text_color="#1e1e1e"))
    return p


def header_fig(letter, lx, ly, total_w, centers):
    p = blank_fig(total_w, HEADER_H)
    p.add_layout(Label(x=lx, y=ly, x_units="screen", y_units="screen", text=letter,
                       text_align="left", text_baseline="middle", text_font=FONT,
                       text_font_style="bold", text_font_size="28px", text_color=NAVY))
    for name, c in zip(COMPOUNDS, centers):
        w1 = em(name) * 22
        w2 = em(SUBSCRIPT) * 15
        x0 = c - (w1 + w2) / 2
        p.add_layout(Label(x=x0, y=12.5, x_units="screen", y_units="screen", text=name,
                           text_align="left", text_baseline="middle", text_font=FONT,
                           text_font_style="bold", text_font_size="22px", text_color=TITLE_RED))
        p.add_layout(Label(x=x0 + w1, y=10, x_units="screen", y_units="screen", text=SUBSCRIPT,
                           text_align="left", text_baseline="middle", text_font=FONT,
                           text_font_style="bold", text_font_size="15px", text_color=TITLE_RED))
    return p


PANEL_A = [[(A1_TOT, A1_ALK, [A1_HF, A1_TI, A1_S]), (A2_TOT, A2_ALK, [A2_ZR, A2_TI, A2_S]), (A3_TOT, A3_ALK, [A3_HF, A3_ZR, A3_S])],
           [(A4_TOT, A4_ALK, [A4_HF, A4_TI, A4_S]), (A5_TOT, A5_ALK, [A5_ZR, A5_TI, A5_S]), (A6_TOT, A6_ALK, [A6_HF, A6_ZR, A6_S])]]
PANEL_B = [[(B1_TOT, B1_ALK, [B1_HF, B1_TI, B1_S]), (B2_TOT, B2_ALK, [B2_ZR, B2_TI, B2_S]), (B3_TOT, B3_ALK, [B3_HF, B3_ZR, B3_S])],
           [(B4_TOT, B4_ALK, [B4_HF, B4_TI, B4_S]), (B5_TOT, B5_ALK, [B5_ZR, B5_TI, B5_S]), (B6_TOT, B6_ALK, [B6_HF, B6_ZR, B6_S])]]


def make_panel(panel, data, alkali_rows, ylab_w, ylab_xc, gaps, widths, xends, letter_x, letter_y):
    total_w = ylab_w + sum(widths) + sum(gaps)
    centers = []
    off = ylab_w
    for i in range(3):
        centers.append(off + 1 + 100)   # screen x of E = 0 (20 px per eV)
        off += widths[i] + (gaps[i] if i < 2 else 0)
    rows = [header_fig(panel, letter_x, letter_y, total_w, centers)]
    for r in range(2):
        top_block = (r == 0)
        bh = 1 + 3 * FH + (MID_GAP if top_block else BOT_GAP)
        yc = bh - (1 + 1.5 * FH)
        kids = [ylab_fig(ylab_w, bh, ylab_xc, yc)]
        for i in range(3):
            tot, alk, elems = data[r][i]
            kids.append(make_column(tot, alk, elems, COL_ELEMENTS[i], alkali_rows[r], panel,
                                    i == 1, top_block, widths[i], xends[i]))
            if i < 2:
                kids.append(Spacer(width=gaps[i], height=bh))
        rows.append(row(*kids))
    return column(*rows)


pa = make_panel("a", PANEL_A, ALKALI_A, 42, 23, [8, 10], [202, 202, 202], [5, 5, 5], 13, 18.5)
pb = make_panel("b", PANEL_B, ALKALI_B, 62, 42, [9, 11], [202, 202, 193], [5, 5, 4.6], 32, 21)
layout = row(pa, pb)

open("out.html", "w").write(file_html(layout, INLINE))
